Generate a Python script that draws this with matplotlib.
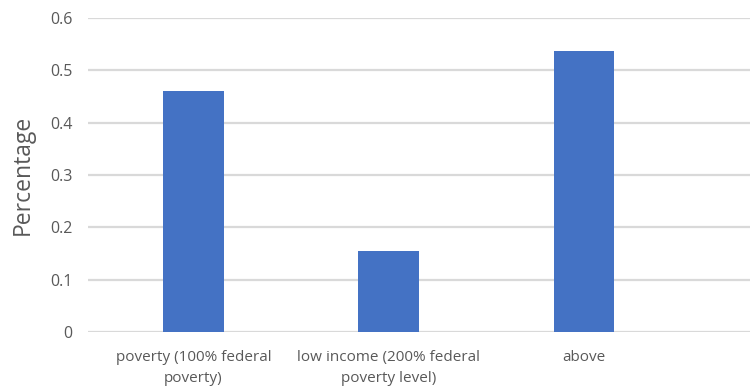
import matplotlib
matplotlib.use("Agg")
import matplotlib.pyplot as plt

categories = ["poverty (100% federal\npoverty)", "low income (200% federal\npoverty level)", "above"]
values = [0.46, 0.155, 0.537]
y_ticks = [0, 0.1, 0.2, 0.3, 0.4, 0.5, 0.6]
y_tick_labels = ["0", "0.1", "0.2", "0.3", "0.4", "0.5", "0.6"]

plt.rcParams["font.family"] = ["Open Sans", "DejaVu Sans"]

fig = plt.figure(figsize=(7.5, 3.92), dpi=100)
ax = fig.add_axes([0.1173, 0.153, 0.8827, 0.801])

x = list(range(len(categories)))
ax.bar(x, values, width=0.312, color="#4472C4", zorder=3)

ax.set_xlim(-0.54, 2.85)
ax.set_ylim(0, 0.6)
ax.set_yticks(y_ticks)
ax.set_yticklabels(y_tick_labels)
ax.set_xticks(x)
ax.set_xticklabels(categories, linespacing=1.5)

ax.yaxis.grid(True, color="#d9d9d9", linewidth=1.6, zorder=0)
for s in ax.spines.values():
    s.set_visible(False)
ax.tick_params(axis="both", length=0, colors="#595959", labelsize=11.5)
ax.tick_params(axis="x", labelsize=11, pad=13)
ax.tick_params(axis="y", pad=11)

ax.set_ylabel("Percentage", fontsize=16.5, color="#595959", labelpad=11)

fig.savefig("out.png", dpi=100)
